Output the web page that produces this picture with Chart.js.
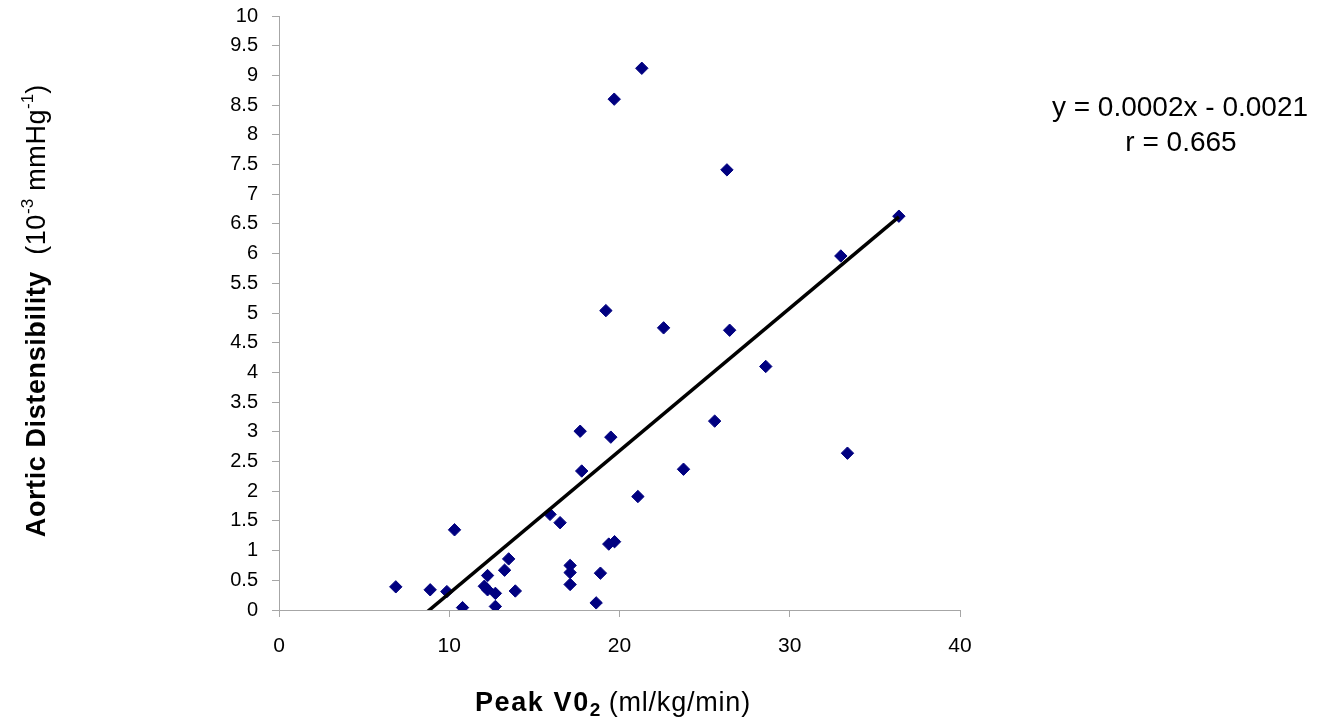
<!DOCTYPE html>
<html>
<head>
<meta charset="utf-8">
<title>Aortic Distensibility vs Peak VO2</title>
<script src="https://cdn.jsdelivr.net/npm/chart.js@4.4.1/dist/chart.umd.min.js"></script>
<style>
  html, body { margin: 0; padding: 0; background: #ffffff; }
  #wrap { width: 1332px; height: 722px; position: relative; }
</style>
</head>
<body>
<div id="wrap"><canvas id="chart" width="1332" height="722"></canvas></div>
<script>
// Peak VO2 (ml/kg/min) for each subject
const peakVO2 = [6.86, 8.88, 9.86, 10.31, 10.78, 12.06, 12.25, 12.25, 12.71, 12.71,
                 13.25, 13.49, 13.88, 15.92, 16.51, 17.10, 17.10, 17.10, 18.63, 18.88,
                 19.37, 19.71, 21.08, 21.31, 19.69, 26.31, 36.41, 33.00, 19.20, 22.59,
                 26.47, 28.59, 17.69, 19.49, 25.59, 33.39, 17.78, 23.76];
// Aortic distensibility (10^-3 mmHg^-1) for the same subjects
const distensibility = [0.39, 0.34, 0.31, 1.35, 0.04, 0.40, 0.34, 0.58, 0.28, 0.06,
                        0.67, 0.86, 0.32, 1.61, 1.47, 0.75, 0.63, 0.43, 0.12, 0.62,
                        1.11, 1.15, 1.91, 9.12, 8.60, 7.41, 6.63, 5.96, 5.04, 4.75,
                        4.71, 4.10, 3.01, 2.91, 3.18, 2.64, 2.34, 2.37];
// Linear fit in plotted units (10^-3 mmHg^-1 per ml/kg/min)
const fitSlope = 0.24;
const fitIntercept = -2.12;
const fitR = 0.665;
// Axis ticks
const xTickValues = [0, 10, 20, 30, 40];
const yTickValues = [0, 0.5, 1, 1.5, 2, 2.5, 3, 3.5, 4, 4.5, 5, 5.5, 6, 6.5, 7, 7.5, 8, 8.5, 9, 9.5, 10];

const FONT = '"Liberation Sans", Arial, Helvetica, sans-serif';

const points = peakVO2.map((x, i) => ({ x: x, y: distensibility[i] }));
const xMin = Math.min(...peakVO2);
const xMax = Math.max(...peakVO2);
const trend = [xMin, xMax].map(x => ({ x: x, y: fitSlope * x + fitIntercept }));

// Equation text in mmHg^-1 units
const slopeTxt = (fitSlope / 1000).toFixed(4);
const interTxt = (Math.abs(fitIntercept) / 1000).toFixed(4);
const eqLine = 'y = ' + slopeTxt + 'x ' + (fitIntercept < 0 ? '- ' : '+ ') + interTxt;
const rLine = 'r = ' + fitR.toFixed(3);

// Draws a run of text segments with individual fonts and baseline shifts
function drawRuns(ctx, runs, startX, baseY) {
  let x = startX;
  runs.forEach(r => {
    ctx.font = r.font;
    ctx.letterSpacing = (r.ls || 0) + 'px';
    ctx.fillText(r.text, x, baseY + (r.dy || 0));
    x += ctx.measureText(r.text).width;
  });
  ctx.letterSpacing = '0px';
  return x - startX;
}
function runsWidth(ctx, runs) {
  let w = 0;
  runs.forEach(r => {
    ctx.font = r.font;
    ctx.letterSpacing = (r.ls || 0) + 'px';
    w += ctx.measureText(r.text).width;
  });
  ctx.letterSpacing = '0px';
  return w;
}

const titlesPlugin = {
  id: 'titles',
  afterDraw(chart) {
    const ctx = chart.ctx;
    ctx.save();
    ctx.fillStyle = '#000';
    ctx.textAlign = 'left';
    ctx.textBaseline = 'alphabetic';

    // Vertical axis title
    const yRuns = [
      { text: 'Aortic Distensibility', font: 'bold 27px ' + FONT, ls: 0.6 },
      { text: '  (10', font: '27px ' + FONT, ls: 0.6 },
      { text: '-3', font: '17px ' + FONT, dy: -12 },
      { text: ' mmHg', font: '27px ' + FONT, ls: 0.6 },
      { text: '-1', font: '17px ' + FONT, dy: -12 },
      { text: ')', font: '27px ' + FONT }
    ];
    const yw = runsWidth(ctx, yRuns);
    ctx.save();
    ctx.translate(45, 311);
    ctx.rotate(-Math.PI / 2);
    drawRuns(ctx, yRuns, -yw / 2, 0);
    ctx.restore();

    // Horizontal axis title
    const xRuns = [
      { text: 'Peak V0', font: 'bold 27px ' + FONT, ls: 1.6 },
      { text: '2', font: 'bold 19px ' + FONT, dy: 5 },
      { text: ' (ml/kg/min)', font: '27px ' + FONT, ls: 0.8 }
    ];
    drawRuns(ctx, xRuns, 475, 711);

    // Regression equation
    ctx.textAlign = 'center';
    ctx.font = '28px ' + FONT;
    ctx.fillText(eqLine, 1180, 116);
    ctx.fillText(rLine, 1181, 151);
    ctx.restore();
  }
};

new Chart(document.getElementById('chart'), {
  type: 'scatter',
  data: {
    datasets: [
      {
        type: 'line',
        label: 'fit',
        data: trend,
        borderColor: '#000000',
        borderWidth: 3.5,
        pointRadius: 0,
        fill: false,
        order: 0
      },
      {
        label: 'subjects',
        data: points,
        pointStyle: 'rectRot',
        pointRadius: 6.2,
        backgroundColor: '#000080',
        borderColor: '#000080',
        borderWidth: 1,
        order: 1
      }
    ]
  },
  options: {
    responsive: false,
    animation: false,
    devicePixelRatio: 1,
    layout: { padding: { left: 0, right: 372, top: 16, bottom: 0 } },
    plugins: {
      legend: { display: false },
      tooltip: { enabled: false },
      title: { display: false }
    },
    scales: {
      x: {
        type: 'linear',
        min: 0,
        max: 40,
        afterFit(s) { s.height = 112; s.paddingLeft = 0; s.paddingRight = 0; },
        afterBuildTicks(s) { s.ticks = xTickValues.map(v => ({ value: v })); },
        ticks: {
          color: '#000',
          font: { family: FONT, size: 21 },
          padding: 17,
          maxRotation: 0,
          callback: v => String(v)
        },
        grid: { drawOnChartArea: false, drawTicks: true, tickLength: 7, color: '#a6a6a6' },
        border: { color: '#a6a6a6', width: 1 }
      },
      y: {
        type: 'linear',
        min: 0,
        max: 10,
        afterFit(s) { s.width = 279; s.paddingTop = 0; s.paddingBottom = 0; },
        afterBuildTicks(s) { s.ticks = yTickValues.map(v => ({ value: v })); },
        ticks: {
          color: '#000',
          font: { family: FONT, size: 20 },
          padding: 14,
          callback: v => String(v)
        },
        grid: { drawOnChartArea: false, drawTicks: true, tickLength: 7, color: '#a6a6a6' },
        border: { color: '#a6a6a6', width: 1 }
      }
    }
  },
  plugins: [titlesPlugin]
});
</script>
</body>
</html>
